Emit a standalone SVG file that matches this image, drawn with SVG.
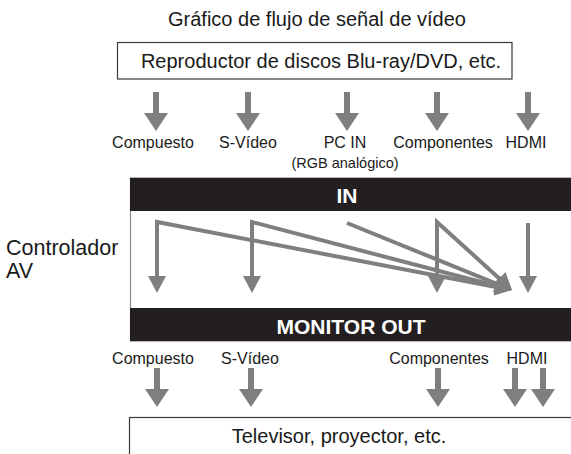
<svg xmlns="http://www.w3.org/2000/svg" xmlns:xlink="http://www.w3.org/1999/xlink" width="571" height="454" viewBox="0 0 571 454">
  <style>
    .t { font-family: "Liberation Sans", Arial, sans-serif; fill: #1a1a1a; }
    .box { fill: #ffffff; stroke: #3a3a3a; stroke-width: 1.2; }
    .bar { fill: #231f20; }
    .bt { font-family: "Liberation Sans", Arial, sans-serif; font-weight: bold; fill: #ffffff; font-size: 21px; text-anchor: middle; }
    .lbl { font-size: 16px; text-anchor: middle; }
    .big { fill: #7f7f7f; }
    .flow { fill: none; stroke: #7f7f7f; stroke-width: 4; stroke-linejoin: miter; }
  </style>
  <defs>
    <path id="bigArrow" d="M-3,-39 L3,-39 L3,-18 L12,-18 L0,0 L-12,-18 L-3,-18 Z"/>
    <marker id="head" viewBox="0 0 17 18" refX="2" refY="9" markerWidth="17" markerHeight="18" markerUnits="userSpaceOnUse" orient="auto-start-reverse">
      <path d="M0,0 L17,9 L0,18 Z" fill="#7f7f7f"/>
    </marker>
  </defs>

  <text class="t" x="317" y="26" font-size="20" text-anchor="middle">Gráfico de flujo de señal de vídeo</text>

  <g id="source">
    <rect class="box" x="117.5" y="42.5" width="394.5" height="36.5"/>
    <text class="t" x="321" y="68" font-size="20" text-anchor="middle">Reproductor de discos Blu-ray/DVD, etc.</text>
  </g>

  <g id="input-labels">
    <text class="t lbl" x="153" y="148">Compuesto</text>
    <text class="t lbl" x="248" y="148">S-Vídeo</text>
    <text class="t lbl" x="345" y="148">PC IN</text>
    <text class="t" x="345" y="168" font-size="14.5" text-anchor="middle">(RGB analógico)</text>
    <text class="t lbl" x="443" y="148">Componentes</text>
    <text class="t lbl" x="526" y="148">HDMI</text>
  </g>

  <g id="av-controller">
    <rect x="130.5" y="178" width="445" height="163" fill="#ffffff" stroke="#8a8a8a" stroke-width="1.2"/>
    <rect class="bar" x="130" y="178" width="445" height="33"/>
    <text class="bt" x="347" y="203">IN</text>
    <rect class="bar" x="130" y="308" width="445" height="33"/>
    <text class="bt" x="351" y="334">MONITOR OUT</text>
    <text class="t" x="6" y="255" font-size="21.5">Controlador</text>
    <text class="t" x="6" y="278" font-size="21.5">AV</text>
  </g>

  <g id="output-labels">
    <text class="t lbl" x="153" y="364">Compuesto</text>
    <text class="t lbl" x="250" y="364">S-Vídeo</text>
    <text class="t lbl" x="439" y="364">Componentes</text>
    <text class="t lbl" x="527" y="364">HDMI</text>
  </g>

  <g id="display">
    <rect class="box" x="129.5" y="417.5" width="450" height="40"/>
    <text class="t" x="339" y="443" font-size="20" text-anchor="middle">Televisor, proyector, etc.</text>
  </g>

  <g id="connectors">
    <use xlink:href="#bigArrow" class="big" x="156" y="131"/>
    <use xlink:href="#bigArrow" class="big" x="248" y="131"/>
    <use xlink:href="#bigArrow" class="big" x="347" y="131"/>
    <use xlink:href="#bigArrow" class="big" x="437" y="131"/>
    <use xlink:href="#bigArrow" class="big" x="528" y="131"/>

    <path class="flow" d="M157,278 L157,222 L497.27,287.18" marker-start="url(#head)" marker-end="url(#head)"/>
    <path class="flow" d="M252,278 L252,222 L497.49,286.2" marker-start="url(#head)" marker-end="url(#head)"/>
    <path class="flow" d="M347,223 L498.1,284.36" marker-end="url(#head)"/>
    <path class="flow" d="M437,278 L437,222 L500.89,279.92" marker-start="url(#head)" marker-end="url(#head)"/>
    <path class="flow" d="M528,223 L528,278" marker-end="url(#head)"/>

    <use xlink:href="#bigArrow" class="big" x="157" y="407"/>
    <use xlink:href="#bigArrow" class="big" x="251" y="407"/>
    <use xlink:href="#bigArrow" class="big" x="438" y="407"/>
    <use xlink:href="#bigArrow" class="big" x="515" y="407"/>
    <use xlink:href="#bigArrow" class="big" x="543" y="407"/>
  </g>
</svg>
